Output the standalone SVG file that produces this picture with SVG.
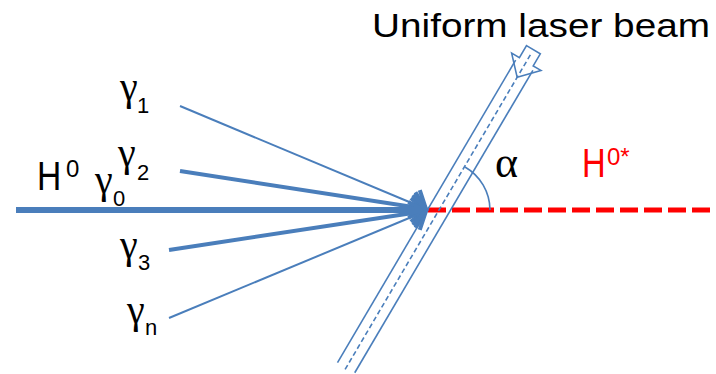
<svg xmlns="http://www.w3.org/2000/svg" width="716" height="374" viewBox="0 0 716 374">
<style>
.ray{stroke:#4A7EBB;fill:none;stroke-linecap:butt}
.tube{stroke:#4A7EBB;stroke-width:1.6;fill:none}
.g{font-family:"Liberation Serif",serif;font-size:40px;fill:#000}
.s{font-family:"Liberation Sans",sans-serif;font-size:22px;fill:#000}
.sup{font-family:"Liberation Sans",sans-serif;font-size:24px}
</style>
<defs>
<marker id="ah" markerUnits="userSpaceOnUse" markerWidth="40" markerHeight="40" viewBox="-20 -20 40 40" refX="0" refY="0" orient="auto">
<path d="M-13,-15 L0,0 L-13,15" stroke="#4A7EBB" stroke-width="4" fill="none"/>
</marker>
</defs>
<rect width="716" height="374" fill="#fff"/>
<g id="connectors">
<line x1="428" y1="210" x2="712" y2="210" stroke="#FF0000" stroke-width="5" stroke-dasharray="18 6"/>
<line class="ray" x1="180" y1="106" x2="426" y2="209" stroke-width="2" marker-end="url(#ah)"/>
<line class="ray" x1="180" y1="171" x2="426" y2="209" stroke-width="4" marker-end="url(#ah)"/>
<line class="ray" x1="169" y1="250" x2="426" y2="211" stroke-width="4" marker-end="url(#ah)"/>
<line class="ray" x1="169" y1="318" x2="426" y2="211" stroke-width="2" marker-end="url(#ah)"/>
<line class="ray" x1="16" y1="210" x2="426" y2="210" stroke-width="6" marker-end="url(#ah)"/>
</g>
<g id="laser" transform="translate(439,210) rotate(30.5)">
<line class="tube" x1="-10" y1="183" x2="-10" y2="-168"/>
<line class="tube" x1="10" y1="183" x2="10" y2="-168"/>
<line class="tube" x1="0" y1="185" x2="0" y2="-182" stroke-dasharray="5 3"/>
<path class="tube" stroke-width="2.5" stroke-linejoin="miter" d="M-8,-186 L8,-186 L8,-172 L17,-172 L0,-154 L-17,-172 L-8,-172 Z"/>
</g>
<g id="angle">
<path d="M465,167 A50,50 0 0 1 490,210" stroke="#4A7EBB" stroke-width="1.6" fill="none"/>
<text x="495" y="177" font-family="Liberation Serif,serif" font-size="44">α</text>
</g>
<g id="title">
<text x="372" y="37" font-family="Liberation Sans,sans-serif" font-size="34" textLength="338" lengthAdjust="spacingAndGlyphs">Uniform laser beam</text>
</g>
<g id="H0">
<text transform="translate(37,190) scale(0.82,1)" font-family="Liberation Sans,sans-serif" font-size="41">H</text>
<text x="66" y="177" class="sup">0</text>
</g>
<g id="H0star">
<text transform="translate(582,177) scale(0.82,1)" font-family="Liberation Sans,sans-serif" font-size="40" fill="#FF0000">H</text>
<text x="607" y="165" class="sup" fill="#FF0000">0*</text>
</g>
<g id="gamma1"><text class="g" x="120" y="100">γ</text><text class="s" x="137" y="113">1</text></g>
<g id="gamma0"><text class="g" x="95" y="193">γ</text><text class="s" x="113" y="206">0</text></g>
<g id="gamma2"><text class="g" x="118" y="166">γ</text><text class="s" x="137" y="180">2</text></g>
<g id="gamma3"><text class="g" x="120" y="258">γ</text><text class="s" x="138" y="270">3</text></g>
<g id="gamman"><text class="g" x="127" y="323">γ</text><text class="s" x="145" y="335">n</text></g>
</svg>
